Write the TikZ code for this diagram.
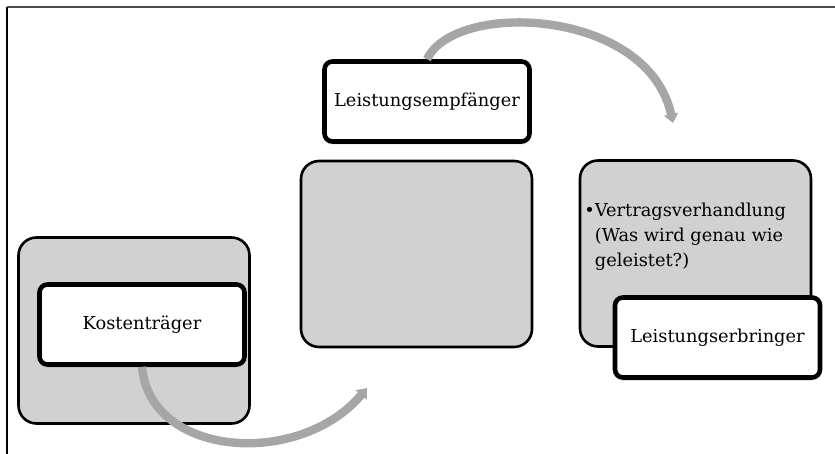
\documentclass[tikz,border=0pt]{standalone}
\usepackage{fontspec}
\setmainfont{DejaVu Serif}
\usetikzlibrary{arrows.meta,shadows}
\tikzset{
  group/.style={draw, line width=1.3pt, rounded corners=9pt, fill=black!18,
    minimum width=115.5pt, minimum height=93pt},
  role/.style={draw, line width=2.3pt, rounded corners=4pt, fill=white,
    minimum width=102.5pt, minimum height=40pt, font=\fontsize{8.9}{12.5}\selectfont,
    drop shadow={shadow xshift=-0.3pt, shadow yshift=-1.5pt, opacity=.35}},
  flow/.style={line width=4.2pt, draw=black!35,
    -{Triangle[width=7pt,length=4.5pt]}}
}
\begin{document}
\begin{tikzpicture}[x=0.5pt, y=-0.5pt]
      \useasboundingbox (0,0) rectangle (835,454);
      % frame
      \draw[line width=1pt, black!70] (7,7.5) -- (835,7.5);
      \draw[line width=0.8pt] (7,7) -- (7,454);
      % groups
      \draw
        (134,330.5) node[group] (g1){}
        (416.5,254) node[group] (g2){}
        (695.5,253.5) node[group] (g3){};
      \node[anchor=base west, inner sep=0, font=\fontsize{8.9}{12.5}\selectfont]
        (vh) at (584,217)
        {\textbullet\begin{tabular}[t]{@{}l@{}}Vertragsverhandlung\\(Was wird genau wie\\geleistet?)\end{tabular}};
      % roles
      \draw
        (142,324.5) node[role] (kt){Kostenträger}
        (427,101.5) node[role] (le){Leistungsempfänger}
        (717.5,337.5) node[role] (lb){Leistungserbringer};
      \coordinate (e1) at (367,388);
      \coordinate (e2) at (673,123);
      \begin{scope}[flow]
        \draw (kt.south) .. controls (150,458) and (300,468) .. (e1);
        \draw (le.north) .. controls (455,0) and (648,8) .. (e2);
      \end{scope}
\end{tikzpicture}
\end{document}
